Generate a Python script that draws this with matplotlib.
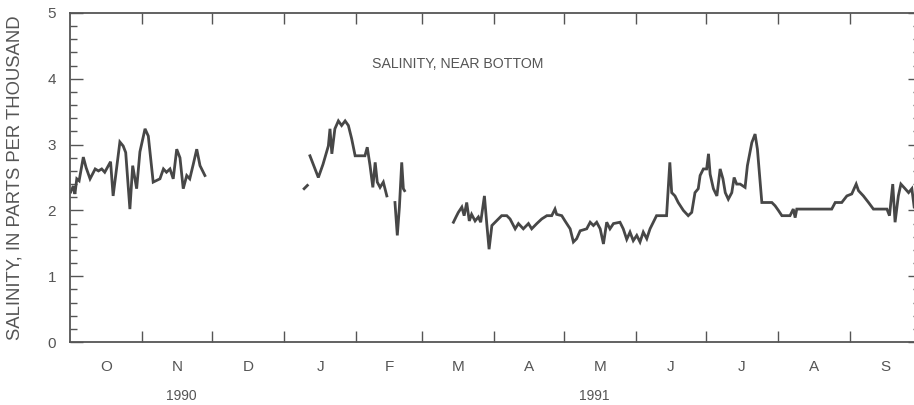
import numpy as np
import pandas as pd
import matplotlib
matplotlib.use("Agg")
import matplotlib.pyplot as plt
from matplotlib.ticker import MultipleLocator

# salinity readings, days counted from 1 Oct 1990 (gaps = missing record)
seg1_days = [0.4, 1.5, 2.2, 3.0, 4.0, 5.8, 7.0, 8.7, 10.9, 12.3, 13.7, 15.0, 17.5,
             18.6, 21.5, 22.9, 24.0, 25.8, 27.0, 28.7, 30.1, 32.3, 33.7, 35.8, 38.7,
             40.2, 41.5, 43.0, 44.4, 45.9, 47.3, 48.7, 50.2, 51.5, 53.0, 54.5, 55.9, 58.0]
seg1_sal = [2.28, 2.37, 2.25, 2.48, 2.45, 2.81, 2.65, 2.48, 2.63, 2.60, 2.63, 2.58, 2.74,
            2.22, 3.04, 2.98, 2.88, 2.02, 2.68, 2.33, 2.89, 3.24, 3.13, 2.43, 2.48,
            2.63, 2.58, 2.63, 2.48, 2.93, 2.80, 2.33, 2.53, 2.48, 2.70, 2.93, 2.68, 2.53]

seg2_days = [100.6, 102.0]
seg2_sal = [2.33, 2.38]

seg3_days = [103.1, 106.7, 108.7, 111.0, 111.7, 112.5, 113.8, 115.3, 116.7, 118.2, 119.6,
             121.0, 122.5, 124.6, 126.7, 127.7, 128.9, 130.1, 131.1, 132.0, 133.2, 134.6, 136.1]
seg3_sal = [2.83, 2.50, 2.70, 2.98, 3.24, 2.86, 3.24, 3.36, 3.29, 3.36, 3.29,
            3.09, 2.83, 2.83, 2.83, 2.96, 2.68, 2.35, 2.73, 2.43, 2.35, 2.43, 2.22]

seg4_days = [139.6, 140.6, 141.5, 142.5, 143.2, 143.7]
seg4_sal = [2.12, 1.62, 2.05, 2.73, 2.33, 2.30]

seg5_days = [164.7, 165.8, 166.8, 168.3, 169.3, 170.4, 171.5, 172.5, 174.0, 175.4, 176.4,
             178.0, 179.0, 180.0, 181.2, 182.6, 184.0, 185.4, 187.6, 189.0, 191.2, 192.6,
             194.7, 196.9, 198.3, 200.5, 202.6, 204.8, 206.9, 208.3, 209.0, 211.2, 212.6,
             214.8, 216.2, 217.6, 219.1, 221.9, 223.4, 224.8, 226.2, 227.7, 229.1, 230.5,
             231.9, 233.4, 236.2, 237.6, 239.1, 240.5, 241.9, 243.4, 244.8, 246.2, 247.7,
             249.1, 250.5, 251.9, 256.2, 257.6, 258.4, 259.8, 261.2, 263.4, 265.5, 267.0,
             268.4, 269.8, 270.6, 272.0, 273.4, 274.2, 274.9, 276.3, 277.8, 279.2, 280.4,
             281.4, 282.7, 284.2, 285.2, 286.3, 287.8, 289.9, 290.9, 292.8, 294.2, 295.2,
             297.1, 298.5, 301.4, 302.8, 304.2, 305.7, 309.2, 310.6, 311.4, 312.1, 327.1,
             328.6, 331.4, 333.6, 335.7, 337.6, 338.6, 340.7, 342.9, 345.0, 350.8, 351.9,
             353.3, 354.3, 355.7, 356.8, 358.6, 360.1, 361.5, 362.5, 364.6]
seg5_sal = [1.82, 1.90, 1.97, 2.05, 1.92, 2.12, 1.84, 1.94, 1.84, 1.90, 1.82,
            2.22, 1.80, 1.41, 1.77, 1.82, 1.87, 1.92, 1.92, 1.87, 1.72, 1.80,
            1.72, 1.80, 1.72, 1.80, 1.87, 1.92, 1.92, 2.02, 1.94, 1.92, 1.84,
            1.72, 1.52, 1.57, 1.69, 1.72, 1.82, 1.77, 1.82, 1.72, 1.49, 1.82,
            1.72, 1.80, 1.82, 1.72, 1.56, 1.67, 1.54, 1.62, 1.52, 1.67, 1.57,
            1.72, 1.82, 1.92, 1.92, 2.73, 2.27, 2.22, 2.12, 2.00, 1.92, 1.97,
            2.27, 2.33, 2.53, 2.63, 2.63, 2.86, 2.55, 2.33, 2.22, 2.63, 2.48,
            2.27, 2.17, 2.27, 2.50, 2.40, 2.40, 2.35, 2.68, 3.03, 3.16, 2.93,
            2.12, 2.12, 2.12, 2.07, 2.00, 1.92, 1.92, 2.02, 1.89, 2.02, 2.02,
            2.12, 2.12, 2.22, 2.25, 2.40, 2.30, 2.22, 2.12, 2.02, 2.02, 1.92,
            2.40, 1.82, 2.22, 2.40, 2.33, 2.27, 2.33, 2.05, 2.05]

segments = [(seg1_days, seg1_sal), (seg2_days, seg2_sal), (seg3_days, seg3_sal),
            (seg4_days, seg4_sal), (seg5_days, seg5_sal)]

month_letters = ['O', 'N', 'D', 'J', 'F', 'M', 'A', 'M', 'J', 'J', 'A', 'S']
start = pd.Timestamp('1990-10-01')
end = pd.Timestamp('1991-10-01')

plt.rcParams['font.family'] = ['Liberation Sans', 'DejaVu Sans']
ink = '#474747'
txt = '#555555'

fig = plt.figure(figsize=(9.14, 4.05), dpi=100)
ax = fig.add_axes([69.8 / 914, 63 / 405, (920 - 69.8) / 914, 329 / 405])

for d, s in segments:
    t = start + pd.to_timedelta(np.array(d), unit='D')
    ax.plot(t, s, color=ink, lw=2.0, solid_joinstyle='miter')

ax.set_xlim(start, end)
ax.set_ylim(0, 5)

month_starts = pd.date_range(start, end, freq='MS')
ax.set_xticks(month_starts[1:-1])
ax.xaxis.set_major_formatter(plt.NullFormatter())
mids = month_starts[:-1] + (month_starts[1:] - month_starts[:-1]) / 2
ax.set_xticks(mids, minor=True)
ax.set_xticklabels(month_letters, minor=True)
ax.tick_params(axis='x', which='major', direction='in', length=8, width=1,
               color=txt, top=True, bottom=True)
ax.tick_params(axis='x', which='minor', length=0, pad=13, labelsize=11,
               labelcolor=txt)

ax.yaxis.set_major_locator(MultipleLocator(1))
ax.yaxis.set_minor_locator(MultipleLocator(0.2))
ax.tick_params(axis='y', which='major', direction='in', length=9, width=1,
               color=txt, left=True, right=True, labelsize=11, labelcolor=txt, pad=10)
ax.tick_params(axis='y', which='minor', direction='in', length=5, width=1,
               color=txt, left=True, right=True)

for sp in ax.spines.values():
    sp.set_color(txt)
    sp.set_linewidth(1.3)

ax.set_ylabel('SALINITY, IN PARTS PER THOUSAND', fontsize=13.3, color=txt)
ax.yaxis.set_label_coords(-0.055, 0.5)

ax.text(pd.Timestamp('1990-11-18'), -0.72, '1990', ha='center', va='top',
        fontsize=10, color=txt, clip_on=False)
ax.text(pd.Timestamp('1991-05-14'), -0.72, '1991', ha='center', va='top',
        fontsize=10, color=txt, clip_on=False)

ax.text(0.456, 0.845, 'SALINITY, NEAR BOTTOM', transform=ax.transAxes, ha='center',
        va='center', fontsize=10.2, color=txt)

fig.savefig('out.png', dpi=100)
